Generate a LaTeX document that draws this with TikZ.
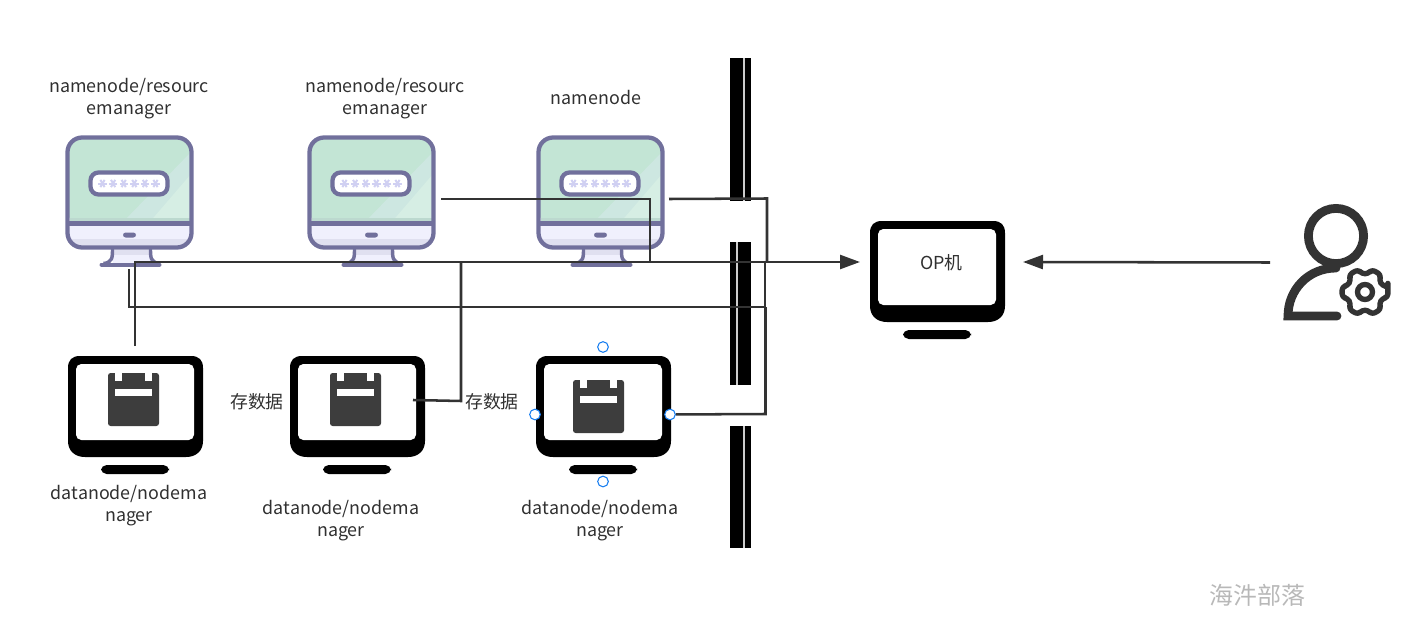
\documentclass[tikz,border=0pt]{standalone}
\usepackage{fontspec}
\usetikzlibrary{arrows.meta}
\setmainfont{Noto Sans CJK SC}
\definecolor{ink}{HTML}{333333}
\definecolor{lab}{HTML}{303030}
\definecolor{frame}{HTML}{71709C}
\definecolor{scr}{HTML}{C3E5D5}
\definecolor{scra}{HTML}{CDE7E1}
\definecolor{scrb}{HTML}{D6EEE4}
\definecolor{scrc}{HTML}{BCD9CF}
\definecolor{chin}{HTML}{F0F0FD}
\definecolor{chins}{HTML}{E0E0F0}
\definecolor{star}{HTML}{D0D0F2}
\definecolor{handle}{HTML}{1A7FF0}
\tikzset{
  x=0.75pt,y=-0.75pt,
  wire/.style={draw=ink,line width=1.9pt,line join=miter},
  arrowwire/.style={wire,-{Triangle[length=15pt,width=10.5pt]}},
  lbl/.style={font=\fontsize{13.4pt}{16.5pt}\selectfont,text=lab,align=center,inner sep=0pt},
  grip/.style={circle,draw=handle,fill=white,line width=0.8pt,minimum size=8pt,inner sep=0pt},
  % login terminal with a password field on a green screen
  loginpc/.pic={
    \fill[scr,rounded corners=9] (0,0) rectangle (124,86);
    \fill[scra] (54,86) -- (124,14) -- (124,86) -- cycle;
    \fill[scrb] (81,86) -- (124,36) -- (124,86) -- cycle;
    \fill[scrc] (2,80) rectangle (122,86);
    \fill[chin,rounded corners=9] (0,84) rectangle (124,110);
    \fill[chins,rounded corners=7] (2,98) rectangle (122,108);
    \fill[chin] (2,88) rectangle (122,101);
    \draw[frame,line width=3.2pt,rounded corners=11] (0,0) rectangle (124,110);
    \draw[frame,line width=3.2pt] (0,86) -- (124,86);
    \fill[frame,rounded corners=2] (55.5,95) rectangle (68.5,100);
    \fill[chin] (45,112) rectangle (83,125);
    \fill[chins] (45,112) rectangle (83,117);
    \draw[frame,line width=2.6pt] (45,111) .. controls (45,120) and (45,125) .. (36,126);
    \draw[frame,line width=2.6pt] (83,111) .. controls (83,120) and (83,125) .. (92,126);
    \draw[frame,line width=3pt,line cap=round] (34,127) -- (92,127);
    \fill[white,rounded corners=4] (23,35) rectangle (100,57);
    \draw[frame,line width=3.2pt,rounded corners=6] (23,35) rectangle (100,57);
    \foreach \i in {0,...,5}
      \foreach \a in {0,60,120}
        \draw[star,line width=1.5pt] ([shift={(\a:4.2)}]35+\i*10.6,46) -- ([shift={(\a+180:4.2)}]35+\i*10.6,46);
  },
  % black terminal frame
  plainpc/.pic={
    \fill[black] (0,12) .. controls (0,4) and (4,0) .. (12,0) -- (123,0)
      .. controls (131,0) and (135,4) .. (135,12) -- (135,85)
      .. controls (135,95) and (128,101) .. (118,101) -- (17,101)
      .. controls (7,101) and (0,95) .. (0,85) -- cycle;
    \fill[white,rounded corners=4] (8,8) rectangle (126,84);
    \fill[black,rounded corners=4.2] (33,109) rectangle (101,118);
  },
  % clipboard glyph shown on the black terminals
  clipglyph/.pic={
    \fill[ink!95!white,rounded corners=2] (0,0) rectangle (51,53);
    \fill[white] (7,-1) rectangle (14,8);
    \fill[white] (37,-1) rectangle (44,8);
    \fill[white] (7,16) rectangle (44,23);
  }
}
\begin{document}
\begin{tikzpicture}
\useasboundingbox (0,0) rectangle (1404,642);

% firewall segments
\fill[black] (730,58) rectangle (751,201);
\fill[black] (730,242) rectangle (751,385);
\fill[black] (730,426) rectangle (751,548);
\fill[black!20] (743,58) rectangle (745,201);
\fill[black!20] (736,242) rectangle (738,385);
\fill[black!20] (743,426) rectangle (745,548);

% master hosts
\pic at (67.5,137.5) {loginpc};
\pic at (309.5,137.5) {loginpc};
\pic at (538.5,137.5) {loginpc};
\node[lbl] (mlabela) at (129,99) {namenode/resourc\\emanager};
\node[lbl] (mlabelb) at (385,99) {namenode/resourc\\emanager};
\node[lbl] (mlabelc) at (596,97.5) {namenode};

% worker hosts
\pic at (68,356) {plainpc};
\pic at (290,356) {plainpc};
\pic at (536,356) {plainpc};
\pic at (108,373) {clipglyph};
\pic at (330,373) {clipglyph};
\pic at (573,380) {clipglyph};
\node[lbl] (wlabela) at (129,506) {datanode/nodema\\nager};
\node[lbl] (wlabelb) at (341,521) {datanode/nodema\\nager};
\node[lbl] (wlabelc) at (600,521) {datanode/nodema\\nager};
\node[lbl] (storea) at (257,402) {存数据};
\node[lbl] (storeb) at (492,402) {存数据};

% operator console and administrator
\pic at (870,221) {plainpc};
\node[lbl] (oplabel) at (941.5,263) {OP机};
\draw[ink,line width=6.6pt] (1336,236) circle (27.6);
\draw[ink,line width=6.6pt,line cap=round] (1337,316) -- (1288,316)
  .. controls (1288,290) and (1308,268) .. (1336,268);
\fill[ink] (1283.6,316) rectangle (1292,320.4);
\begin{scope}[shift={(1365,292)}]
  \draw[ink,line width=4pt,line join=round,rounded corners=2.5] (-13:23.5)
    \foreach \a in {0,60,...,300} {
      -- (\a-13:23.5) -- (\a+13:23.5) -- (\a+20:18.5) -- (\a+40:18.5)
    } -- cycle;
  \draw[ink,line width=4pt] (0,0) circle (7.5);
\end{scope}
\node[lbl,text=black!28,font=\fontsize{18pt}{20pt}\selectfont] (mark) at (1257,595) {海汼部落};

% free ends of the connectors
\coordinate (uplink) at (135,346);
\coordinate (uplinkturn) at (135,262);
\coordinate (opin) at (860,262);
\coordinate (loopstart) at (129,269);
\coordinate (loopa) at (129,307);
\coordinate (loopb) at (765,307);
\coordinate (loopc) at (765,262);
\coordinate (mbout) at (441,199);
\coordinate (mbturn) at (650,199);
\coordinate (mbjoin) at (650,262);
\coordinate (wbout) at (413,400);
\coordinate (wbturn) at (461,401);
\coordinate (wbjoin) at (461,262);
\coordinate (mcout) at (669,199);
\coordinate (mcturn) at (767,198.5);
\coordinate (mcjoin) at (767,262);
\coordinate (wcturn) at (765.5,414);
\coordinate (wcjoin) at (765.5,307);
\coordinate (adminout) at (1270,262.5);
\coordinate (opout) at (1023,262);

% selection handles of the third worker
\node[grip] (gripn) at (603,347) {};
\node[grip] (grips) at (603,481.5) {};
\node[grip] (gripw) at (535,414.5) {};
\node[grip] (gripe) at (670,414.5) {};

% connectors
\draw[arrowwire] (uplink) -- (uplinkturn) -- (opin);
\draw[wire] (loopstart) -- (loopa) -- (loopb) -- (loopc);
\draw[wire] (mbout) -- (mbturn) -- (mbjoin);
\draw[wire] (wbout) -- (wbturn) -- (wbjoin);
\draw[wire] (mcout) -- (mcturn) -- (mcjoin);
\draw[wire] (gripe) -- (wcturn) -- (wcjoin);
\draw[arrowwire] (adminout) -- (opout);
\end{tikzpicture}
\end{document}
